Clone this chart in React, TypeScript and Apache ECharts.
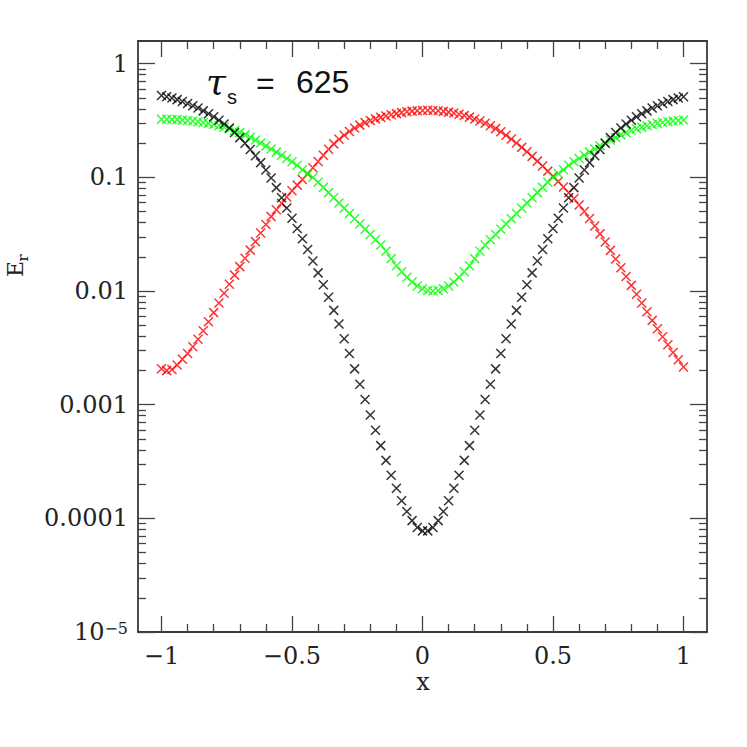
import React, { useEffect, useRef } from "react";
import * as echarts from "echarts";

// x grid of the computed points
const xValues = [
  -1.0, -0.98, -0.96, -0.94, -0.92, -0.9, -0.88, -0.86, -0.84, -0.82,
  -0.8, -0.78, -0.76, -0.74, -0.72, -0.7, -0.68, -0.66, -0.64, -0.62,
  -0.6, -0.58, -0.56, -0.54, -0.52, -0.5, -0.48, -0.46, -0.44, -0.42,
  -0.4, -0.38, -0.36, -0.34, -0.32, -0.3, -0.28, -0.26, -0.24, -0.22,
  -0.2, -0.18, -0.16, -0.14, -0.12, -0.1, -0.08, -0.06, -0.04, -0.02,
  0.0, 0.02, 0.04, 0.06, 0.08, 0.1, 0.12, 0.14, 0.16, 0.18,
  0.2, 0.22, 0.24, 0.26, 0.28, 0.3, 0.32, 0.34, 0.36, 0.38,
  0.4, 0.42, 0.44, 0.46, 0.48, 0.5, 0.52, 0.54, 0.56, 0.58,
  0.6, 0.62, 0.64, 0.66, 0.68, 0.7, 0.72, 0.74, 0.76, 0.78,
  0.8, 0.82, 0.84, 0.86, 0.88, 0.9, 0.92, 0.94, 0.96, 0.98,
  1.0,
];

// log10(E_r), one value per x above
const blackLogE = [
  -0.28, -0.29, -0.302, -0.316, -0.332, -0.35, -0.37, -0.39, -0.415, -0.44,
  -0.467, -0.497, -0.53, -0.565, -0.605, -0.65, -0.7, -0.755, -0.81, -0.87,
  -0.935, -1.005, -1.09, -1.18, -1.27, -1.36, -1.45, -1.54, -1.635, -1.735,
  -1.84, -1.945, -2.055, -2.17, -2.29, -2.42, -2.55, -2.685, -2.82, -2.955,
  -3.09, -3.225, -3.36, -3.49, -3.62, -3.735, -3.845, -3.94, -4.02, -4.08,
  -4.11, -4.11, -4.08, -4.02, -3.94, -3.845, -3.735, -3.62, -3.49, -3.36,
  -3.225, -3.09, -2.955, -2.82, -2.685, -2.55, -2.42, -2.29, -2.17, -2.055,
  -1.945, -1.84, -1.735, -1.635, -1.54, -1.45, -1.36, -1.27, -1.18, -1.09,
  -1.005, -0.935, -0.87, -0.81, -0.755, -0.7, -0.65, -0.605, -0.565, -0.53,
  -0.497, -0.467, -0.44, -0.415, -0.39, -0.37, -0.35, -0.332, -0.316, -0.302,
  -0.29,
];

const redLogE = [
  -2.683, -2.7, -2.69, -2.65, -2.6, -2.55, -2.49, -2.425, -2.35, -2.27,
  -2.19, -2.105, -2.02, -1.94, -1.86, -1.785, -1.712, -1.64, -1.565, -1.49,
  -1.415, -1.345, -1.285, -1.228, -1.172, -1.118, -1.068, -1.018, -0.97, -0.915,
  -0.86, -0.805, -0.752, -0.705, -0.665, -0.63, -0.596, -0.566, -0.54, -0.518,
  -0.5, -0.485, -0.472, -0.46, -0.449, -0.439, -0.43, -0.423, -0.417, -0.413,
  -0.411, -0.41, -0.411, -0.414, -0.419, -0.426, -0.434, -0.444, -0.456, -0.47,
  -0.486, -0.504, -0.524, -0.546, -0.571, -0.599, -0.63, -0.663, -0.698, -0.736,
  -0.775, -0.815, -0.857, -0.9, -0.945, -0.99, -1.037, -1.085, -1.135, -1.188,
  -1.243, -1.3, -1.362, -1.428, -1.497, -1.568, -1.642, -1.718, -1.795, -1.872,
  -1.95, -2.028, -2.105, -2.182, -2.258, -2.332, -2.403, -2.472, -2.54, -2.605,
  -2.668,
];

const greenLogE = [
  -0.488, -0.489, -0.49, -0.492, -0.495, -0.499, -0.504, -0.51, -0.517, -0.525,
  -0.535, -0.546, -0.558, -0.572, -0.588, -0.606, -0.626, -0.648, -0.672, -0.697,
  -0.723, -0.75, -0.778, -0.806, -0.834, -0.862, -0.893, -0.932, -0.965, -0.998,
  -1.042, -1.088, -1.134, -1.18, -1.226, -1.272, -1.318, -1.364, -1.41, -1.456,
  -1.502, -1.548, -1.595, -1.65, -1.715, -1.778, -1.83, -1.878, -1.92, -1.955,
  -1.98, -1.995, -2.0, -1.995, -1.98, -1.955, -1.92, -1.878, -1.83, -1.778,
  -1.715, -1.65, -1.595, -1.548, -1.502, -1.456, -1.41, -1.364, -1.318, -1.272,
  -1.226, -1.18, -1.134, -1.088, -1.042, -0.998, -0.965, -0.932, -0.893, -0.862,
  -0.834, -0.806, -0.778, -0.75, -0.723, -0.697, -0.672, -0.648, -0.626, -0.606,
  -0.588, -0.572, -0.558, -0.546, -0.535, -0.525, -0.517, -0.51, -0.504, -0.499,
  -0.495,
];

// axis ticks and labels
const xMajorTicks = [-1, -0.5, 0, 0.5, 1];
const xTickLabels = ["\u22121", "\u22120.5", "0", "0.5", "1"];
const xMinorTicks = [
  -0.9, -0.8, -0.7, -0.6, -0.4, -0.3, -0.2, -0.1,
  0.1, 0.2, 0.3, 0.4, 0.6, 0.7, 0.8, 0.9,
];
const yMajorTicks = [1e-5, 1e-4, 1e-3, 0.01, 0.1, 1];
const yTickLabels = ["{b|10}{s|\u22125}", "0.0001", "0.001", "0.01", "0.1", "1"];
const yMinorTicks = [
  2e-5, 3e-5, 4e-5, 5e-5, 6e-5, 7e-5, 8e-5, 9e-5,
  2e-4, 3e-4, 4e-4, 5e-4, 6e-4, 7e-4, 8e-4, 9e-4,
  2e-3, 3e-3, 4e-3, 5e-3, 6e-3, 7e-3, 8e-3, 9e-3,
  0.02, 0.03, 0.04, 0.05, 0.06, 0.07, 0.08, 0.09,
  0.2, 0.3, 0.4, 0.5, 0.6, 0.7, 0.8, 0.9,
];

const X_MIN = -1.09;
const X_MAX = 1.09;
const Y_MIN = 1e-5;
const Y_MAX = 1.5849;

const SERIF = "'DejaVu Serif', serif";
const SANS = "'Liberation Sans', Arial, sans-serif";
const AXIS_COLOR = "#3a3a3a";
const TICK_COLOR = "#444";

function nearestIndex(list: number[], v: number, log: boolean) {
  let best = 0;
  let bestD = Infinity;
  list.forEach((t, i) => {
    const d = log ? Math.abs(Math.log10(t) - Math.log10(v)) : Math.abs(t - v);
    if (d < bestD) {
      bestD = d;
      best = i;
    }
  });
  return best;
}

function makeX(position: string, ticks: number[], len: number, labels: boolean, line: boolean) {
  return {
    type: "value",
    gridIndex: 0,
    position,
    min: X_MIN,
    max: X_MAX,
    axisLine: { show: line, onZero: false, lineStyle: { color: AXIS_COLOR, width: 1.8 } },
    axisTick: { show: true, inside: true, length: len, customValues: ticks, lineStyle: { color: TICK_COLOR, width: 1.3 } },
    axisLabel: labels
      ? {
          show: true,
          customValues: xMajorTicks,
          formatter: (v: number) => xTickLabels[nearestIndex(xMajorTicks, v, false)],
          fontFamily: SERIF,
          fontSize: 24,
          color: "#222",
          margin: 12,
        }
      : { show: false },
    splitLine: { show: false },
  };
}

function makeY(position: string, ticks: number[], len: number, labels: boolean, line: boolean) {
  return {
    type: "log",
    logBase: 10,
    gridIndex: 0,
    position,
    min: Y_MIN,
    max: Y_MAX,
    axisLine: { show: line, onZero: false, lineStyle: { color: AXIS_COLOR, width: 1.8 } },
    axisTick: { show: true, inside: true, length: len, customValues: ticks, lineStyle: { color: TICK_COLOR, width: 1.3 } },
    axisLabel: labels
      ? {
          show: true,
          customValues: yMajorTicks,
          formatter: (v: number) => yTickLabels[nearestIndex(yMajorTicks, v, true)],
          fontFamily: SERIF,
          fontSize: 24,
          color: "#222",
          margin: 10,
          rich: {
            b: { fontFamily: SERIF, fontSize: 24, color: "#222" },
            s: { fontFamily: SERIF, fontSize: 16, color: "#222", verticalAlign: "top" },
          },
        }
      : { show: false },
    splitLine: { show: false },
  };
}

const CROSS = "path://M0,0L10,10M10,0L0,10";

function makeSeries(name: string, color: string, logs: number[]) {
  return {
    name,
    type: "scatter",
    xAxisIndex: 0,
    yAxisIndex: 0,
    symbol: CROSS,
    symbolSize: 9,
    silent: true,
    itemStyle: { color, borderColor: color, borderWidth: 1.5 },
    emphasis: { disabled: true },
    data: xValues.map((x, i) => [x, Math.pow(10, logs[i])]),
  };
}

export default function App() {
  const ref = useRef<HTMLDivElement>(null);
  useEffect(() => {
    document.body.style.margin = "0";
    if (!ref.current) return;
    const chart = echarts.init(ref.current, undefined, { renderer: "svg" });
    const option: any = {
      animation: false,
      backgroundColor: "#fff",
      grid: { left: 138, right: 40, top: 41, bottom: 115 },
      xAxis: [
        makeX("bottom", xMajorTicks, 16, true, true),
        makeX("bottom", xMinorTicks, 8, false, false),
        makeX("top", xMajorTicks, 16, false, true),
        makeX("top", xMinorTicks, 8, false, false),
      ],
      yAxis: [
        makeY("left", yMajorTicks, 17, true, true),
        makeY("left", yMinorTicks, 8, false, false),
        makeY("right", yMajorTicks, 17, false, true),
        makeY("right", yMinorTicks, 8, false, false),
      ],
      series: [
        makeSeries("red", "#ff0000", redLogE),
        makeSeries("green", "#00ff00", greenLogE),
        makeSeries("black", "#000000", blackLogE),
      ],
      graphic: [
        { type: "text", x: 206, y: 81, style: { text: "\u03c4", fontSize: 36, fontFamily: SERIF, fontStyle: "italic", fill: "#111", align: "left", verticalAlign: "middle" } },
        { type: "text", x: 227, y: 97, style: { text: "s", fontSize: 20, fontFamily: SANS, fill: "#111", align: "left", verticalAlign: "middle" } },
        { type: "text", x: 256, y: 83, style: { text: "=", fontSize: 32, fontFamily: SANS, fill: "#111", align: "left", verticalAlign: "middle" } },
        { type: "text", x: 296, y: 82, style: { text: "625", fontSize: 32, fontFamily: SANS, fill: "#111", align: "left", verticalAlign: "middle" } },
        { type: "text", x: 423, y: 682, style: { text: "x", fontSize: 24, fontFamily: SERIF, fill: "#222", align: "center", verticalAlign: "middle" } },
        { type: "text", x: 15, y: 269, rotation: Math.PI / 2, style: { text: "E", fontSize: 22, fontFamily: SERIF, fill: "#222", align: "center", verticalAlign: "middle" } },
        { type: "text", x: 23, y: 258, rotation: Math.PI / 2, style: { text: "r", fontSize: 15, fontFamily: SERIF, fill: "#222", align: "center", verticalAlign: "middle" } },
      ],
    };
    chart.setOption(option);
    return () => chart.dispose();
  }, []);
  return <div ref={ref} style={{ width: 747, height: 747 }} />;
}
